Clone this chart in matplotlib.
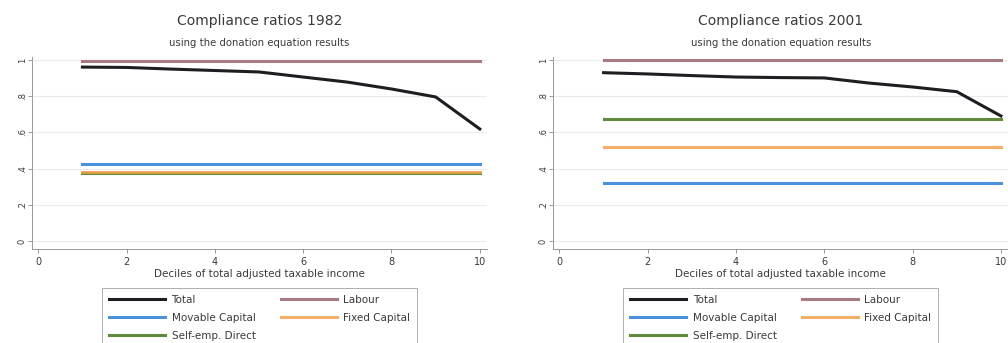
import matplotlib
matplotlib.use("Agg")
import matplotlib.pyplot as plt
import numpy as np

deciles = [1, 2, 3, 4, 5, 6, 7, 8, 9, 10]

# 1982
total_1982 = [0.961, 0.959, 0.950, 0.942, 0.934, 0.906, 0.878, 0.840, 0.796, 0.619]
labour_1982 = 0.997
movable_1982 = 0.427
fixed_1982 = 0.382
selfemp_1982 = 0.376

# 2001
total_2001 = [0.930, 0.923, 0.914, 0.906, 0.903, 0.901, 0.873, 0.851, 0.825, 0.691]
labour_2001 = 0.998
movable_2001 = 0.322
fixed_2001 = 0.519
selfemp_2001 = 0.672

years = ["1982", "2001"]
yticks = [0, 0.2, 0.4, 0.6, 0.8, 1.0]
ytick_labels = ["0", ".2", ".4", ".6", ".8", "1"]
xticks = [0, 2, 4, 6, 8, 10]

colors = {
    "Total": "#1e1e22",
    "Labour": "#a87a82",
    "Movable Capital": "#4a92dc",
    "Fixed Capital": "#f2a04c",
    "Self-emp. Direct": "#5d8a3c",
}

fig = plt.figure(figsize=(10.08, 3.43), dpi=100)
positions = [[0.032, 0.274, 0.451, 0.560], [0.549, 0.274, 0.451, 0.560]]
data = [
    (total_1982, labour_1982, movable_1982, fixed_1982, selfemp_1982),
    (total_2001, labour_2001, movable_2001, fixed_2001, selfemp_2001),
]
text_col = "#3a3a3a"
lw = 2.2
for pos, year, (tot, lab, mov, fix, se) in zip(positions, years, data):
    ax = fig.add_axes(pos)
    n = len(deciles)
    ax.plot(deciles, [lab] * n, color=colors["Labour"], lw=lw, label="Labour", zorder=3)
    ax.plot(deciles, [mov] * n, color=colors["Movable Capital"], lw=lw, label="Movable Capital", zorder=3)
    ax.plot(deciles, [se] * n, color=colors["Self-emp. Direct"], lw=lw, label="Self-emp. Direct", zorder=3)
    ax.plot(deciles, [fix] * n, color=colors["Fixed Capital"], lw=lw, label="Fixed Capital", zorder=3, alpha=0.85)
    ax.plot(deciles, tot, color=colors["Total"], lw=lw, label="Total", zorder=4)
    ax.set_xlim(-0.136, 10.16)
    ax.set_ylim(-0.044, 1.017)
    ax.set_yticks(yticks)
    ax.set_yticklabels(ytick_labels, rotation=90, va="center", fontsize=6, color=text_col)
    ax.set_xticks(xticks)
    ax.set_xticklabels([str(t) for t in xticks], fontsize=7, color=text_col)
    ax.tick_params(axis="x", length=3, width=0.6, color="#888888", pad=3)
    ax.tick_params(axis="y", length=3, width=0.6, color="#888888", pad=1)
    ax.grid(axis="y", color="#e8ecee", lw=0.8)
    ax.set_axisbelow(True)
    for s in ["top", "right"]:
        ax.spines[s].set_visible(False)
    for s in ["left", "bottom"]:
        ax.spines[s].set_color("#999999")
        ax.spines[s].set_linewidth(0.7)
    ax.set_xlabel("Deciles of total adjusted taxable income", fontsize=7.5, color=text_col, labelpad=1)
    ax.set_title("using the donation equation results", fontsize=7.3, color=text_col, pad=8)
    ax.text(0.5, 1.185, "Compliance ratios " + year, transform=ax.transAxes,
            ha="center", va="center", fontsize=10, color=text_col)
    handles, labels = ax.get_legend_handles_labels()
    order = ["Total", "Movable Capital", "Self-emp. Direct", "Labour", "Fixed Capital"]
    hmap = dict(zip(labels, handles))
    leg = ax.legend([hmap[o] for o in order], order, ncol=2, loc="upper center",
                    bbox_to_anchor=(0.5, -0.175), fontsize=7.5, frameon=True, fancybox=False,
                    edgecolor="#999999", handlelength=5.4, columnspacing=2.4, handletextpad=0.6,
                    labelspacing=0.75, borderpad=0.7, labelcolor=text_col)
    leg.get_frame().set_linewidth(0.7)

fig.savefig("out.png", dpi=100, facecolor="white")
